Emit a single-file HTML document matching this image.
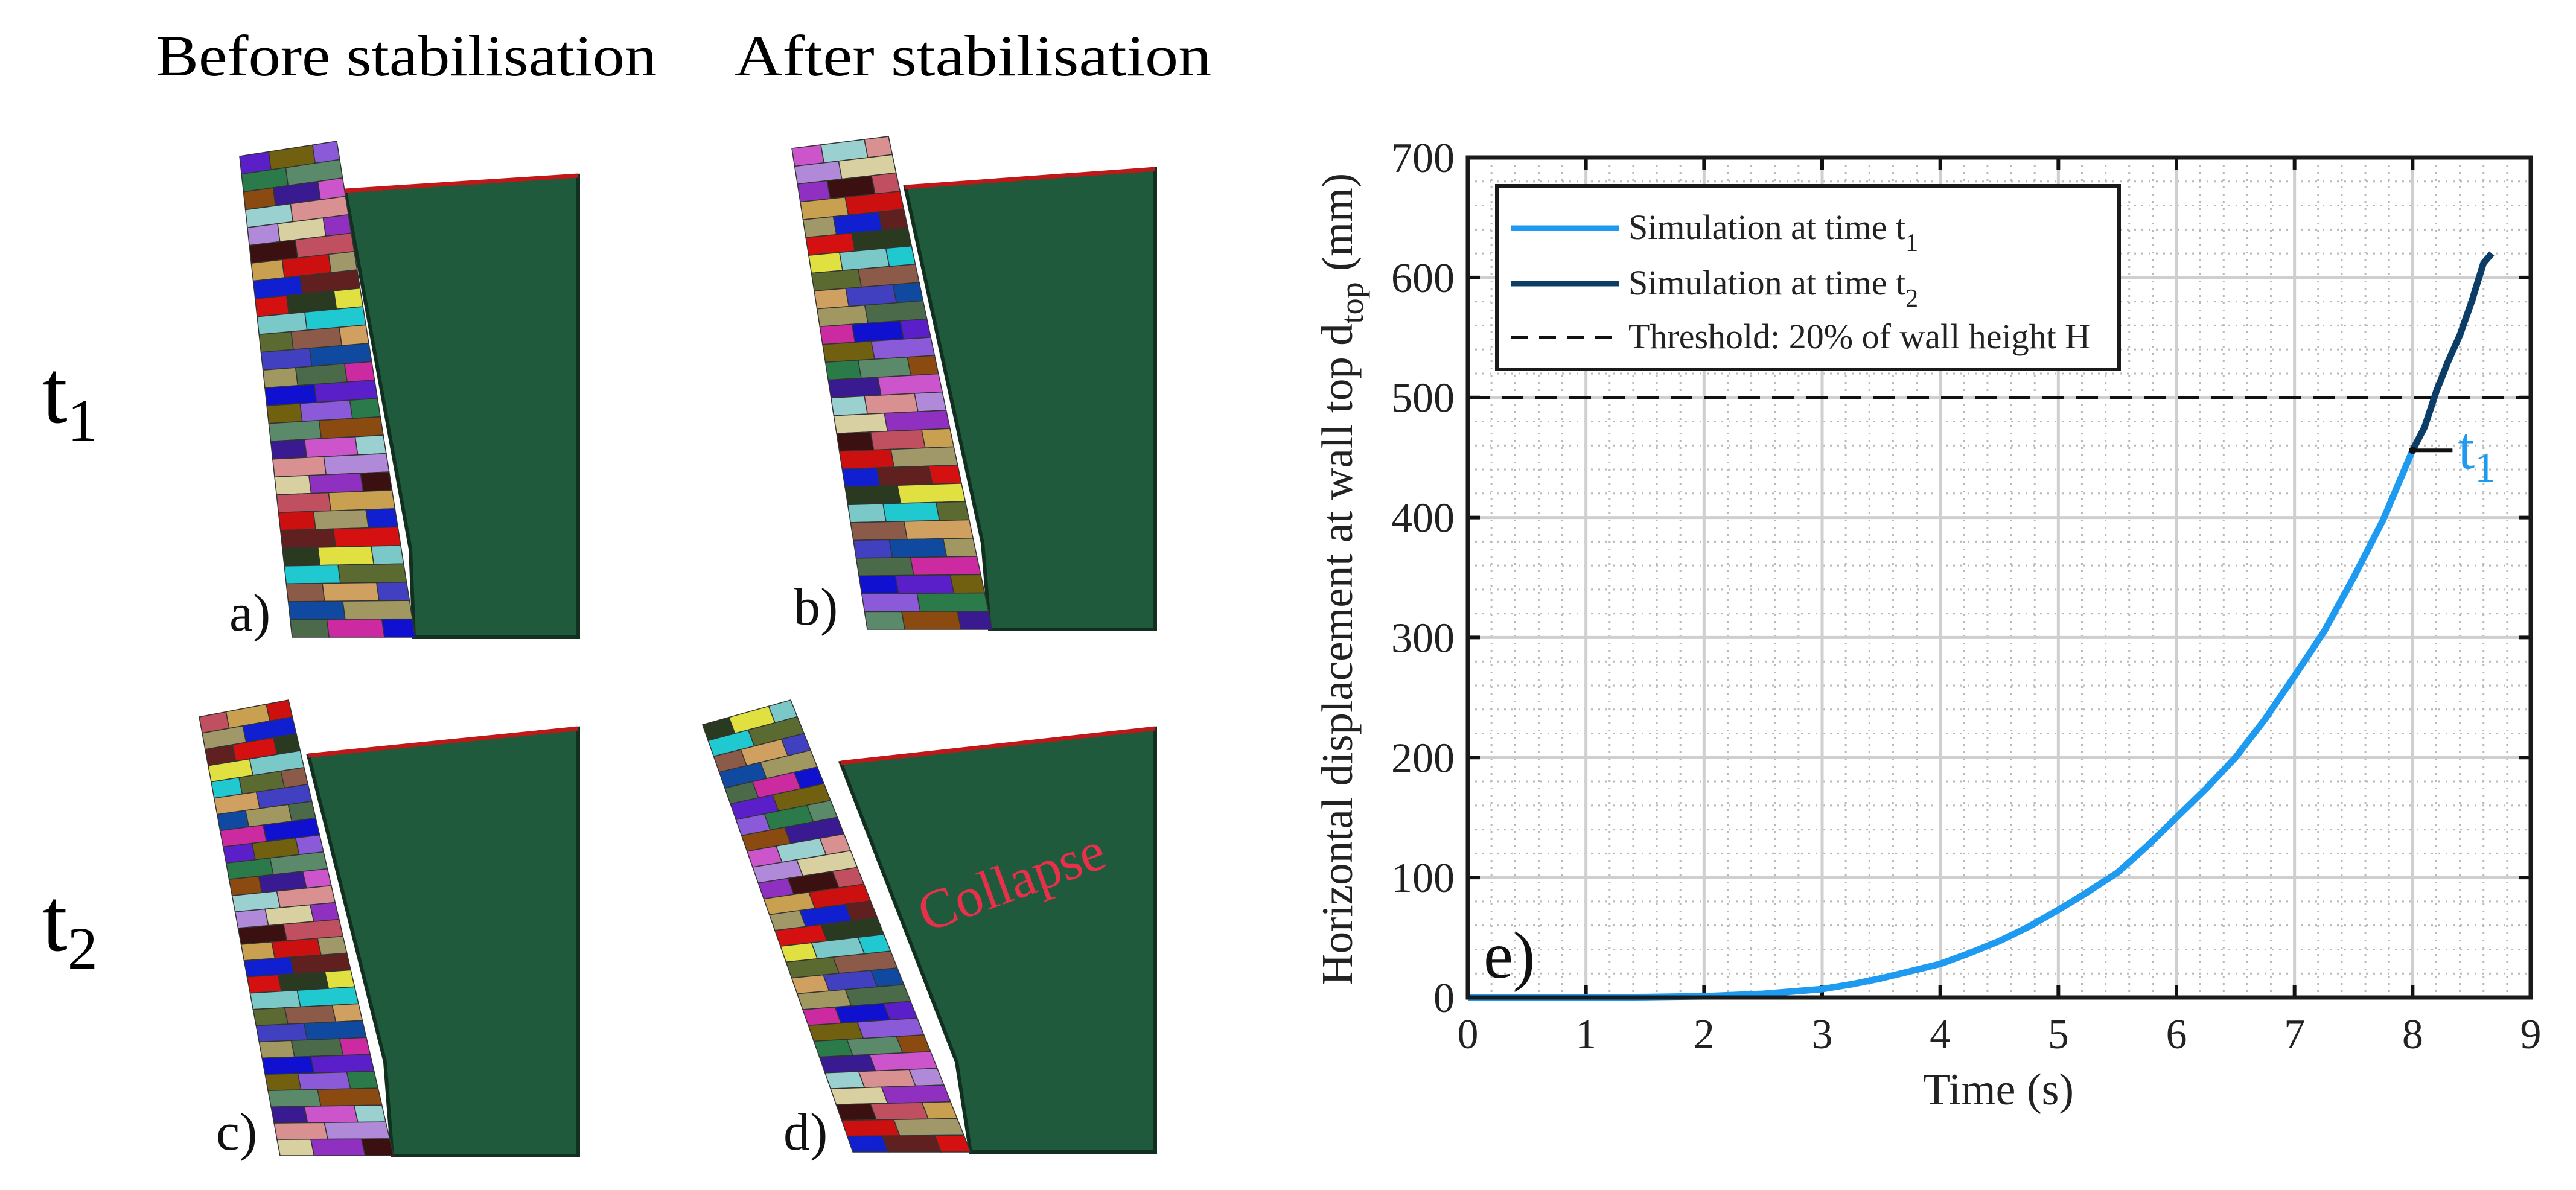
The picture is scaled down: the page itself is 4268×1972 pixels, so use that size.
<!DOCTYPE html>
<html><head><meta charset="utf-8">
<style>
html,body{margin:0;padding:0;background:#fff;}
svg{display:block;}
text{font-family:"Liberation Serif",serif;}
</style></head>
<body>
<svg id="fig" width="4268" height="1972" viewBox="0 0 4268 1972" xmlns="http://www.w3.org/2000/svg">
  <rect width="4268" height="1972" fill="#fff"/>
  <g id="left"></g>
  <text x="673" y="125" font-size="96" text-anchor="middle" textLength="830" lengthAdjust="spacingAndGlyphs">Before stabilisation</text>
  <text x="1612" y="125" font-size="96" text-anchor="middle" textLength="790" lengthAdjust="spacingAndGlyphs">After stabilisation</text>
  <text x="70" y="700" font-size="150">t<tspan font-size="100" dy="30">1</tspan></text>
  <text x="70" y="1575" font-size="150">t<tspan font-size="100" dy="30">2</tspan></text>
  <g id="chart"></g>
</svg>
<script>
// ---------- chart data ----------
const xTicks = [0,1,2,3,4,5,6,7,8,9];
const yTicks = [0,100,200,300,400,500,600,700];
const timesT1 = [0,0.5,1,1.5,2,2.5,3,3.25,3.5,3.75,4,4.25,4.5,4.75,5,5.25,5.5,5.75,6,6.25,6.5,6.75,7,7.25,7.5,7.75,8.0];
const valuesT1 = [0,0,0,0.3,1,3,7,11,16,22,28,37,47,59,73,88,104,126,150,174,200,232,268,305,350,398,456];
const timesT2 = [8.0,8.1,8.2,8.3,8.4,8.5,8.6,8.67];
const valuesT2 = [456,475,505,530,552,580,612,620];
const threshold = [500];
const t1Marker = [8.0,456];

const NS="http://www.w3.org/2000/svg";
function mk(tag,attrs,parent){const e=document.createElementNS(NS,tag);for(const k in attrs)e.setAttribute(k,attrs[k]);parent.appendChild(e);return e;}
const X0=2432,X1=4193,Y0=1653,Y1=261;
const xs=t=>X0+(t-0)/9*(X1-X0);
const ys=v=>Y0-(v/700)*(Y0-Y1);
const chart=document.getElementById('chart');

for(let t=0.2;t<9;t+=0.2){
  const l=mk('line',{x1:xs(t),x2:xs(t),y1:Y1,y2:Y0,stroke:'#b8b8b8','stroke-width':3,'stroke-dasharray':'3 9'},chart);
  
  
}
for(let v=20;v<700;v+=20){
  const l=mk('line',{x1:X0,x2:X1,y1:ys(v),y2:ys(v),stroke:'#b8b8b8','stroke-width':3,'stroke-dasharray':'3 9'},chart);
  
  
}
xTicks.forEach(t=>{
  const g=mk('line',{x1:xs(t),x2:xs(t),y1:Y1,y2:Y0,stroke:'#cfcfcf','stroke-width':5},chart);
  
  
  mk('line',{x1:xs(t),x2:xs(t),y1:Y0,y2:Y0-20,stroke:'#111','stroke-width':6},chart);
  mk('line',{x1:xs(t),x2:xs(t),y1:Y1,y2:Y1+20,stroke:'#111','stroke-width':6},chart);
  const tx=mk('text',{x:xs(t),y:1737,'font-size':70,'text-anchor':'middle',fill:'#222'},chart);
  
  
  tx.textContent=t;
});
yTicks.forEach(v=>{
  const g=mk('line',{x1:X0,x2:X1,y1:ys(v),y2:ys(v),stroke:'#cfcfcf','stroke-width':5},chart);
  
  
  mk('line',{x1:X0,x2:X0+20,y1:ys(v),y2:ys(v),stroke:'#111','stroke-width':6},chart);
  mk('line',{x1:X1,x2:X1-20,y1:ys(v),y2:ys(v),stroke:'#111','stroke-width':6},chart);
  const tx=mk('text',{x:X0-22,y:ys(v)+24,'font-size':70,'text-anchor':'end',fill:'#222'},chart);
  
  
  tx.textContent=v;
});
const th=mk('line',{x1:X0,x2:X1,y1:ys(threshold[0]),y2:ys(threshold[0]),stroke:'#111','stroke-width':5,'stroke-dasharray':'36 20'},chart);


function path(ts,vs){return ts.map((t,i)=>(i?'L':'M')+xs(t).toFixed(1)+' '+ys(vs[i]).toFixed(1)).join(' ');}
const p1=mk('path',{d:path(timesT1,valuesT1),fill:'none',stroke:'#1e9bf0','stroke-width':11,'stroke-linejoin':'round'},chart);


const p2=mk('path',{d:path(timesT2,valuesT2),fill:'none',stroke:'#0b3d66','stroke-width':11,'stroke-linejoin':'round'},chart);


const mx=xs(t1Marker[0]),my=ys(t1Marker[1]);
const ml=mk('line',{x1:mx,x2:mx+66,y1:my,y2:my,stroke:'#111','stroke-width':6},chart);


mk('circle',{cx:mx,cy:my,r:6,fill:'#111'},chart);
const mt=mk('text',{x:mx+75,y:my+30,'font-size':100,fill:'#1e9bf0'},chart);


mt.innerHTML='t<tspan font-size="70" dy="22">1</tspan>';
const fr=mk('rect',{x:X0,y:Y1,width:X1-X0,height:Y0-Y1,fill:'none',stroke:'#1a1a1a','stroke-width':7},chart);


const lg=mk('g',{},chart);


mk('rect',{x:2480,y:308,width:1031,height:304,fill:'#fff',stroke:'#1a1a1a','stroke-width':6},lg);
const legItems=[['#1e9bf0','','Simulation at time t','1',378],['#0b3d66','','Simulation at time t','2',470],['#111','28 18','Threshold: 20% of wall height H','',559]];
legItems.forEach(it=>{
  const ln=mk('line',{x1:2504,x2:2683,y1:it[4],y2:it[4],stroke:it[0],'stroke-width':it[1]?4:9,'stroke-dasharray':it[1]||'none'},lg);
  
  
  const tx=mk('text',{x:2698,y:it[4]+18,'font-size':58,fill:'#222'},lg);
  
  
  tx.innerHTML=it[2]+(it[3]?'<tspan font-size="42" dy="20">'+it[3]+'</tspan>':'');
});
const yl=mk('text',{x:0,y:0,'font-size':73,'text-anchor':'middle',fill:'#222',transform:'translate(2240,960) rotate(-90)'},chart);


yl.innerHTML='Horizontal displacement at wall top d<tspan font-size="54" dy="18">top</tspan><tspan dy="-18"> (mm)</tspan>';
const xl=mk('text',{x:3311,y:1830,'font-size':74,'text-anchor':'middle',fill:'#222'},chart);


xl.textContent='Time (s)';
const el=mk('text',{x:2458,y:1620,'font-size':110,fill:'#111'},chart);


el.textContent='e)';

// ---------- left panels (illustrations) ----------
const left=document.getElementById('left');
const palette=['#5a1fc8','#8a4a10','#b08ad8','#c8a050','#d41010','#5a6a30','#a09860','#706010','#3a1a90','#d8d0a0','#cc1010','#2a3a20','#8c5a48','#4a6a4a','#8a5ad8','#cc55cc','#9030c0','#a09868','#e0e040','#d0a060','#cc2aa0','#2a7a4a','#9ad0d0','#3a1010','#1020d0','#7ac8c8','#4040c0','#1010d0','#5a8a6a','#d89090','#c05060','#602020','#20c8d0','#104aa0'];
const panels=[
 {name:'panel-a',g:[[572,316],[958,291],[958,1056],[686,1056],[680,910]],b:[[397,259],[558,234],[484,1056],[688,1056]],lab:'a)',lx:380,ly:1045},
 {name:'panel-b',g:[[1500,310],[1914,280],[1914,1043],[1640,1043],[1628,900]],b:[[1312,246],[1472,226],[1437,1043],[1644,1043]],lab:'b)',lx:1315,ly:1035},
 {name:'panel-c',g:[[511,1252],[958,1207],[958,1915],[650,1915],[638,1760]],b:[[330,1188],[478,1160],[464,1915],[652,1915]],lab:'c)',lx:358,ly:1905},
 {name:'panel-d',g:[[1393,1264],[1914,1207],[1914,1909],[1608,1909],[1585,1760]],b:[[1164,1201],[1310,1160],[1413,1909],[1608,1909]],lab:'d)',lx:1298,ly:1905}
];
function bil(q,u,v){const [a,b,c,d]=q;const tx=a[0]+(b[0]-a[0])*u,ty=a[1]+(b[1]-a[1])*u,bx=c[0]+(d[0]-c[0])*u,by=c[1]+(d[1]-c[1])*u;return [tx+(bx-tx)*v,ty+(by-ty)*v];}
panels.forEach((p,pi)=>{
  const g=mk('g',{},left);
  
  
  const soil=mk('polygon',{points:p.g.map(q=>q.join(',')).join(' '),fill:'#1f5a3c',stroke:'#123020','stroke-width':6},g);
  
  
  const top=mk('line',{x1:p.g[0][0],y1:p.g[0][1],x2:p.g[1][0],y2:p.g[1][1],stroke:'#c01818','stroke-width':7},g);
  
  
  const rows=27;let ci=pi*7;
  for(let r=0;r<rows;r++){
    const v0=r/rows,v1=(r+1)/rows;
    const cuts=(r%2)?[0,0.45,1]:[0,0.3,0.75,1];
    for(let k=0;k<cuts.length-1;k++){
      const u0=cuts[k],u1=cuts[k+1];
      const pts=[bil(p.b,u0,v0),bil(p.b,u1,v0),bil(p.b,u1,v1),bil(p.b,u0,v1)];
      const br=mk('polygon',{points:pts.map(q=>q.map(n=>n.toFixed(1)).join(',')).join(' '),fill:palette[(ci++*7)%palette.length],stroke:'#333','stroke-width':1.5},g);
      
      
    }
  }
  const lb=mk('text',{x:p.lx,y:p.ly,'font-size':88,fill:'#111'},g);
  
  
  lb.textContent=p.lab;
});
const col=mk('text',{x:0,y:0,'font-size':92,fill:'#e8304a',transform:'translate(1535,1545) rotate(-20)'},left);


col.textContent='Collapse';
</script>
</body></html>
